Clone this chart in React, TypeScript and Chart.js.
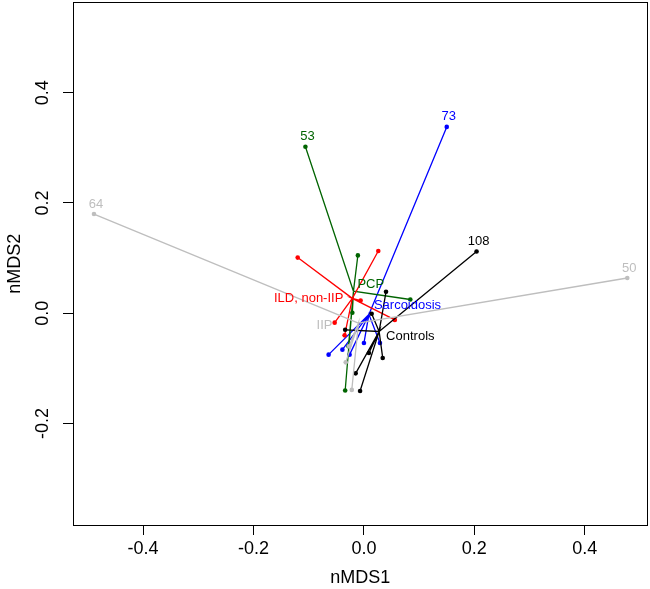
import React, { useEffect, useRef } from "react";
import { Chart, registerables } from "chart.js";

Chart.register(...registerables);

// ---- Data (nMDS scores) ----
const groupNames = ["IIP", "Controls", "ILD, non-IIP", "PCP", "Sarcoidosis"];
const groupColors = ["#bebebe", "#000000", "#ff0000", "#006400", "#0000ff"];

const centroidX = [-0.01, 0.0275, -0.021, -0.019, 0.009];
const centroidY = [-0.018, -0.033, 0.027, 0.04, -0.002];

const iipX = [-0.489, 0.477, -0.033, -0.022, -0.027];
const iipY = [0.18, 0.064, -0.089, -0.139, -0.06];
const iipIds = ["64", "50", "", "", ""];

const controlsX = [0.204, 0.04, 0.014, -0.034, 0.034, 0.009, -0.015, -0.007];
const controlsY = [0.112, 0.039, -0.001, -0.03, -0.081, -0.072, -0.109, -0.141];
const controlsIds = ["108", "", "", "", "", "", "", ""];

const ildX = [-0.12, 0.026, -0.006, 0.056, -0.053, -0.035];
const ildY = [0.101, 0.113, 0.023, -0.012, -0.017, -0.04];
const ildIds = ["", "", "", "", "", ""];

const pcpX = [-0.106, -0.011, 0.084, -0.021, -0.028, -0.034];
const pcpY = [0.302, 0.105, 0.025, 0.001, -0.06, -0.14];
const pcpIds = ["53", "", "", "", "", ""];

const sarcX = [0.15, -0.064, -0.039, -0.026, 0.0, 0.029];
const sarcY = [0.338, -0.075, -0.066, -0.075, -0.054, -0.054];
const sarcIds = ["73", "", "", "", "", ""];

const xTicks = [-0.4, -0.2, 0.0, 0.2, 0.4];
const yTicks = [-0.2, 0.0, 0.2, 0.4];
const xRange = [-0.527, 0.514];
const yRange = [-0.384, 0.564];

const groupXs = [iipX, controlsX, ildX, pcpX, sarcX];
const groupYs = [iipY, controlsY, ildY, pcpY, sarcY];
const groupIds = [iipIds, controlsIds, ildIds, pcpIds, sarcIds];

// label placement (style): offsets in px from centroid
const groupLabelStyle = [
  { align: "right", dx: -26, dy: 2 },
  { align: "left", dx: 7, dy: 5 },
  { align: "right", dx: -9, dy: 0 },
  { align: "left", dx: 4, dy: -7 },
  { align: "left", dx: 5, dy: -9 },
];

const FONT = "'Liberation Sans', Arial, Helvetica, sans-serif";

export default function App() {
  const ref = useRef<HTMLCanvasElement | null>(null);

  useEffect(() => {
    if (!ref.current) return;

    const datasets = groupNames.map((name, g) => {
      const data: { x: number; y: number }[] = [];
      groupXs[g].forEach((x, i) => {
        data.push({ x: centroidX[g], y: centroidY[g] });
        data.push({ x, y: groupYs[g][i] });
      });
      return {
        label: name,
        data,
        showLine: true,
        borderColor: groupColors[g],
        backgroundColor: groupColors[g],
        borderWidth: 1.3,
        pointRadius: (ctx: any) => (ctx.dataIndex % 2 === 1 ? 2.3 : 0),
        pointBorderWidth: 0,
        pointHoverRadius: 0,
        clip: false as any,
      };
    });

    const labelPlugin = {
      id: "spiderLabels",
      afterDatasetsDraw(chart: any) {
        const { ctx, chartArea, scales } = chart;
        const xs = scales.x;
        const ys = scales.y;
        ctx.save();
        // box
        ctx.strokeStyle = "#000";
        ctx.lineWidth = 1;
        ctx.strokeRect(
          Math.round(chartArea.left) + 0.5,
          Math.round(chartArea.top) + 0.5,
          Math.round(chartArea.right - chartArea.left) - 1,
          Math.round(chartArea.bottom - chartArea.top)
        );
        ctx.font = `13px ${FONT}`;
        ctx.textBaseline = "middle";
        // point ids
        groupNames.forEach((_, g) => {
          ctx.fillStyle = groupColors[g];
          ctx.textAlign = "center";
          groupIds[g].forEach((id, i) => {
            if (!id) return;
            const px = xs.getPixelForValue(groupXs[g][i]);
            const py = ys.getPixelForValue(groupYs[g][i]);
            ctx.fillText(id, px + 2, py - 10);
          });
        });
        // group labels
        groupNames.forEach((name, g) => {
          const st = groupLabelStyle[g];
          ctx.fillStyle = groupColors[g];
          ctx.textAlign = st.align;
          const px = xs.getPixelForValue(centroidX[g]);
          const py = ys.getPixelForValue(centroidY[g]);
          ctx.fillText(name, px + st.dx, py + st.dy);
        });
        ctx.restore();
      },
    };

    const chart = new Chart(ref.current, {
      type: "scatter",
      data: { datasets: datasets as any },
      options: {
        animation: false,
        responsive: false,
        layout: { padding: { top: 1, right: 1, left: 0, bottom: 0 } },
        plugins: {
          legend: { display: false },
          tooltip: { enabled: false },
        },
        scales: {
          x: {
            type: "linear",
            min: xRange[0],
            max: xRange[1],
            afterBuildTicks: (scale: any) => {
              scale.ticks = xTicks.map((v) => ({ value: v }));
            },
            afterFit: (scale: any) => {
              scale.height = 64;
              scale.paddingLeft = 0;
              scale.paddingRight = 0;
              scale.paddingTop = 0;
              scale.paddingBottom = 0;
            },
            grid: {
              display: true,
              drawOnChartArea: false,
              drawTicks: true,
              tickLength: 10,
              tickColor: "#000",
              color: "#000",
            },
            border: { display: false },
            ticks: {
              color: "#000",
              font: { family: FONT, size: 18 },
              padding: 3,
              maxRotation: 0,
              minRotation: 0,
              callback: (v: any) => Number(v).toFixed(1),
            },
            title: {
              display: true,
              text: "nMDS1",
              color: "#000",
              font: { family: FONT, size: 18 },
              padding: { top: 0, bottom: 0 },
            },
          },
          y: {
            type: "linear",
            min: yRange[0],
            max: yRange[1],
            afterBuildTicks: (scale: any) => {
              scale.ticks = yTicks.map((v) => ({ value: v }));
            },
            afterFit: (scale: any) => {
              scale.width = 73;
              scale.paddingLeft = 0;
              scale.paddingRight = 0;
              scale.paddingTop = 0;
              scale.paddingBottom = 0;
            },
            grid: {
              display: true,
              drawOnChartArea: false,
              drawTicks: true,
              tickLength: 10,
              tickColor: "#000",
              color: "#000",
            },
            border: { display: false },
            ticks: {
              color: "#000",
              font: { family: FONT, size: 18 },
              padding: 4,
              minRotation: 90,
              maxRotation: 90,
              crossAlign: "center",
              callback: (v: any) => Number(v).toFixed(1),
            },
            title: {
              display: true,
              text: "nMDS2",
              color: "#000",
              font: { family: FONT, size: 18 },
              padding: { top: 4, bottom: 0 },
            },
          },
        },
      },
      plugins: [labelPlugin],
    });

    return () => chart.destroy();
  }, []);

  return (
    <div style={{ position: "absolute", left: 0, top: 0, width: 650, height: 589, background: "#fff" }}>
      <canvas ref={ref} width={650} height={589} style={{ display: "block" }} />
    </div>
  );
}
